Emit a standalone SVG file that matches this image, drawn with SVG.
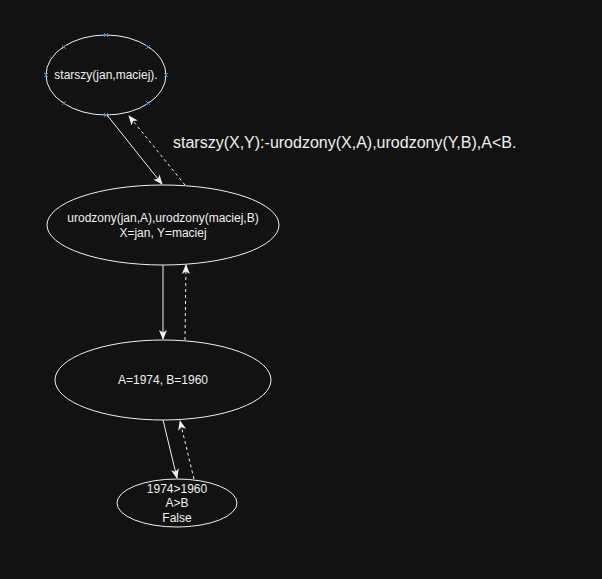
<svg xmlns="http://www.w3.org/2000/svg" width="602" height="579" viewBox="0 0 602 579">
<defs>
<style>
.n{fill:none;stroke:#f0f0f0;stroke-width:1}
.t{fill:#f0f0f0;font-family:"Liberation Sans",Arial,sans-serif;font-size:12px;text-anchor:middle}
.e{fill:none;stroke:#f0f0f0;stroke-width:1}
.d{stroke-dasharray:3 3}
.h{stroke:#3d8fd6;stroke-width:1}
</style>
<marker id="a" viewBox="0 0 10 10" refX="9" refY="5" markerWidth="10" markerHeight="10" markerUnits="userSpaceOnUse" orient="auto">
<path d="M0,1 L10,5 L0,9 L2.5,5 Z" fill="#f0f0f0"/>
</marker>
</defs>
<rect width="602" height="579" fill="#121212"/>
<g id="node1">
<ellipse class="n" cx="106" cy="75" rx="60" ry="40"/>
<text class="t" x="106" y="79">starszy(jan,maciej).</text>
<g class="h">
<path d="M104,33 l4,4 M108,33 l-4,4"/>
<path d="M104,113 l4,4 M108,113 l-4,4"/>
<path d="M44,73 l4,4 M48,73 l-4,4"/>
<path d="M164,73 l4,4 M168,73 l-4,4"/>
<path d="M62,45 l4,4 M66,45 l-4,4"/>
<path d="M146,45 l4,4 M150,45 l-4,4"/>
<path d="M62,101 l4,4 M66,101 l-4,4"/>
<path d="M146,101 l4,4 M150,101 l-4,4"/>
</g>
</g>
<g id="node2">
<ellipse class="n" cx="163" cy="225" rx="116" ry="40"/>
<text class="t" x="163" y="222">urodzony(jan,A),urodzony(maciej,B)</text>
<text class="t" x="163" y="237">X=jan, Y=maciej</text>
</g>
<g id="node3">
<ellipse class="n" cx="163" cy="380" rx="108" ry="40"/>
<text class="t" x="163" y="384">A=1974, B=1960</text>
</g>
<g id="node4">
<ellipse class="n" cx="177" cy="503" rx="60" ry="24"/>
<text class="t" x="177" y="493">1974&gt;1960</text>
<text class="t" x="177" y="507">A&gt;B</text>
<text class="t" x="177" y="522">False</text>
</g>
<g id="connectors">
<line class="e" x1="107" y1="115" x2="162" y2="184" marker-end="url(#a)"/>
<line class="e d" x1="185" y1="185" x2="129" y2="116" marker-end="url(#a)"/>
<line class="e" x1="163" y1="265" x2="163" y2="339" marker-end="url(#a)"/>
<line class="e d" x1="185" y1="340" x2="186" y2="265" marker-end="url(#a)"/>
<line class="e" x1="163" y1="420" x2="177" y2="478" marker-end="url(#a)"/>
<line class="e d" x1="194" y1="479" x2="180" y2="421" marker-end="url(#a)"/>
</g>
<text x="173" y="148" style="fill:#f0f0f0;font-family:'Liberation Sans',Arial,sans-serif;font-size:16px">starszy(X,Y):-urodzony(X,A),urodzony(Y,B),A&lt;B.</text>
</svg>
